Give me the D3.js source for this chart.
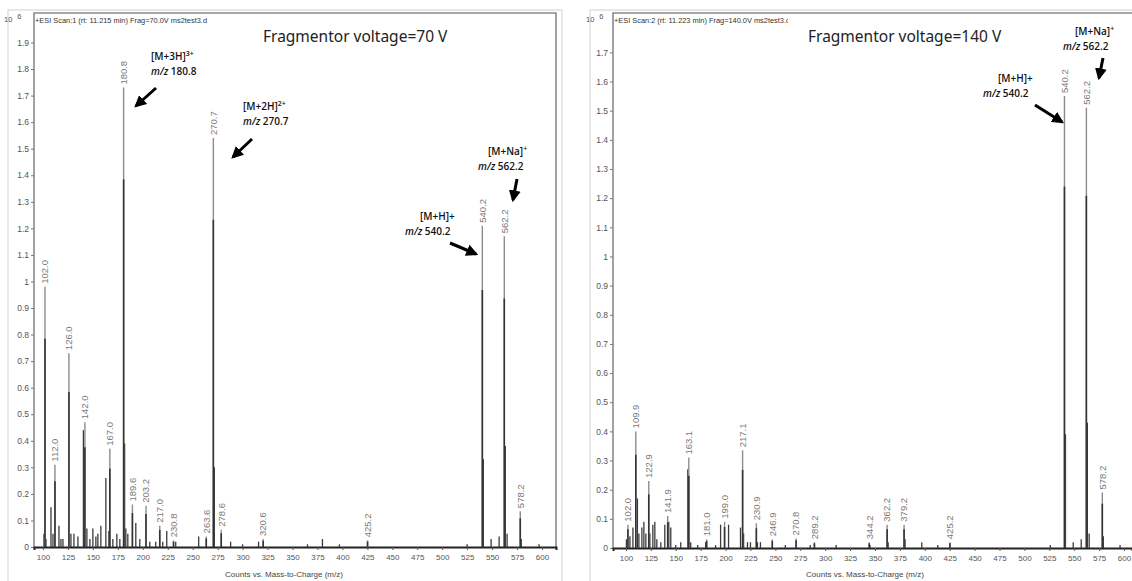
<!DOCTYPE html>
<meta charset="utf-8">
<script src="https://cdn.jsdelivr.net/npm/d3@7"></script>
<head>
<style>
  body { margin: 0; background: #fff; }
  text { font-family: "Liberation Sans", Arial, sans-serif; }
</style>
</head>
<body>
<script>

    // ---- data (m/z, counts x10^6) ----
    var xTicks = [100,125,150,175,200,225,250,275,300,325,350,375,400,425,450,475,500,525,550,575,600];
    var leftYTicks = [0,0.1,0.2,0.3,0.4,0.5,0.6,0.7,0.8,0.9,1,1.1,1.2,1.3,1.4,1.5,1.6,1.7,1.8,1.9];
    var rightYTicks = [0,0.1,0.2,0.3,0.4,0.5,0.6,0.7,0.8,0.9,1,1.1,1.2,1.3,1.4,1.5,1.6,1.7];

    // 70 V spectrum, labelled peaks
    var leftPeakMz  = [102.0, 112.0, 126.0, 142.0, 167.0, 180.8, 189.6, 203.2, 217.0, 230.8, 263.6, 270.7, 278.6, 320.6, 425.2, 540.2, 562.2, 578.2];
    var leftPeakInt = [0.98, 0.31, 0.73, 0.47, 0.37, 1.73, 0.16, 0.155, 0.08, 0.025, 0.04, 1.54, 0.065, 0.03, 0.025, 1.21, 1.17, 0.135];
    // 70 V spectrum, unlabelled peaks
    var leftMinorMz  = [101, 103, 108, 110, 116, 118, 120, 128, 131, 135, 140.5, 144, 147, 150, 153, 155, 158, 163, 166, 170, 174, 177, 181.8, 183, 185, 193, 197, 207, 213, 220, 224, 233, 256, 271.7, 288, 300, 316, 365, 380, 397, 525, 541.2, 549, 557, 563.2, 565, 579.2, 597];
    var leftMinorInt = [0.05, 0.03, 0.15, 0.05, 0.08, 0.03, 0.03, 0.05, 0.05, 0.04, 0.44, 0.07, 0.03, 0.07, 0.04, 0.05, 0.08, 0.26, 0.06, 0.03, 0.05, 0.03, 0.39, 0.07, 0.05, 0.09, 0.03, 0.02, 0.02, 0.02, 0.06, 0.02, 0.04, 0.30, 0.02, 0.01, 0.02, 0.01, 0.03, 0.01, 0.01, 0.33, 0.03, 0.04, 0.38, 0.05, 0.03, 0.01];

    // 140 V spectrum, labelled peaks
    var rightPeakMz  = [102.0, 109.9, 122.9, 141.9, 163.1, 181.0, 199.0, 217.1, 230.9, 246.9, 270.8, 289.2, 344.2, 362.2, 379.2, 425.2, 540.2, 562.2, 578.2];
    var rightPeakInt = [0.08, 0.40, 0.23, 0.11, 0.31, 0.03, 0.09, 0.335, 0.085, 0.03, 0.033, 0.02, 0.02, 0.08, 0.08, 0.02, 1.55, 1.51, 0.19];
    // 140 V spectrum, unlabelled peaks
    var rightMinorMz  = [100.5, 104, 107, 111.5, 113, 116, 118, 120, 124, 127, 129, 131, 135, 139, 143, 145, 150, 155, 162.1, 165, 172, 180, 190, 195, 203, 215, 218.1, 222, 225, 232, 235, 260, 285, 311, 345, 363.2, 380.2, 397, 413, 526, 541.2, 549, 557, 563.2, 565, 579.2, 596];
    var rightMinorInt = [0.03, 0.04, 0.07, 0.17, 0.05, 0.07, 0.09, 0.05, 0.05, 0.08, 0.09, 0.03, 0.02, 0.08, 0.09, 0.07, 0.01, 0.02, 0.27, 0.02, 0.01, 0.02, 0.01, 0.08, 0.08, 0.07, 0.05, 0.02, 0.02, 0.02, 0.02, 0.01, 0.01, 0.01, 0.01, 0.02, 0.03, 0.02, 0.01, 0.01, 0.39, 0.02, 0.03, 0.43, 0.05, 0.04, 0.01];

    var svg = d3.select("body").append("svg")
        .attr("width", 1132)
        .attr("height", 581);

    var defs = svg.append("defs");
    defs.append("marker")
        .attr("id", "arrowHead")
        .attr("viewBox", "0 0 10 10")
        .attr("refX", 8)
        .attr("refY", 5)
        .attr("markerWidth", 4)
        .attr("markerHeight", 4)
        .attr("orient", "auto")
        .append("path")
        .attr("d", "M0,0 L10,5 L0,10 z")
        .attr("fill", "#000");

    function drawPanel(cfg) {

        var g = svg.append("g").attr("class", "panel");

        // outer light frame of the screenshot
        g.append("rect")
            .attr("x", cfg.outer[0])
            .attr("y", cfg.outer[1])
            .attr("width", cfg.outer[2])
            .attr("height", cfg.outer[3])
            .style("fill", "none")
            .style("stroke", "#d8d8d8")
            .style("stroke-width", 1.2);

        var x = d3.scaleLinear().domain(cfg.xDomain).range([cfg.left, cfg.right]);
        var y = d3.scaleLinear().domain([0, cfg.yMax]).range([cfg.bottom, cfg.top]);

        // plot frame
        g.append("path")
            .attr("d", "M" + cfg.left + "," + cfg.bottom + "V" + cfg.top + "H" + cfg.right + (cfg.closeRight ? "V" + cfg.bottom : ""))
            .style("fill", "none")
            .style("stroke", "#8a8a8a")
            .style("stroke-width", 1.6);

        var clipId = "clip" + cfg.id;
        defs.append("clipPath").attr("id", clipId)
            .append("rect")
            .attr("x", cfg.left)
            .attr("y", cfg.top)
            .attr("width", cfg.right - cfg.left)
            .attr("height", cfg.bottom - cfg.top + 2);

        // y axis
        var yAxis = d3.axisLeft(y)
            .tickValues(cfg.yTicks)
            .tickSize(3)
            .tickPadding(2)
            .tickFormat(function(d) { return d3.format("")(+d.toFixed(1)); });
        var yg = g.append("g")
            .attr("transform", "translate(" + cfg.left + ",0)")
            .call(yAxis);
        yg.select(".domain").remove();
        yg.selectAll("line").style("stroke", "#777");
        yg.selectAll("text")
            .style("font-size", "8.5px")
            .style("fill", "#555")
            .style("font-family", "Liberation Sans, Arial, sans-serif");

        // x axis
        var xAxis = d3.axisBottom(x)
            .tickValues(xTicks)
            .tickSize(3)
            .tickPadding(4)
            .tickFormat(d3.format("d"));
        var xg = g.append("g")
            .attr("transform", "translate(0," + cfg.bottom + ")")
            .call(xAxis);
        xg.select(".domain")
            .style("stroke", "#222")
            .style("stroke-width", 2);
        xg.selectAll("line").style("stroke", "#555");
        xg.selectAll("text")
            .style("font-size", "8px")
            .style("fill", "#555")
            .style("font-family", "Liberation Sans, Arial, sans-serif");

        g.append("text")
            .attr("x", cfg.xLabelX)
            .attr("y", 577)
            .attr("text-anchor", "middle")
            .style("font-size", "8px")
            .style("fill", "#444")
            .text("Counts vs. Mass-to-Charge (m/z)");

        // 10^6 multiplier
        var mult = g.append("text")
            .attr("x", cfg.outer[0] - 4)
            .attr("y", 22)
            .style("font-size", "7.5px")
            .style("fill", "#555");
        mult.append("tspan").text("10");
        mult.append("tspan").attr("dx", 5).attr("dy", -3).text("6");

        // scan header
        var hClipId = "hclip" + cfg.id;
        defs.append("clipPath").attr("id", hClipId)
            .append("rect")
            .attr("x", cfg.left)
            .attr("y", cfg.top)
            .attr("width", cfg.headerWidth)
            .attr("height", 20);
        g.append("text")
            .attr("x", cfg.left + 1)
            .attr("y", cfg.top + 10)
            .attr("clip-path", "url(#" + hClipId + ")")
            .style("font-size", "7.4px")
            .style("fill", "#333")
            .text(cfg.header);

        // peaks
        var plot = g.append("g").attr("clip-path", "url(#" + clipId + ")");

        var minor = cfg.minorMz.map(function(d, i) { return {mz: d, v: cfg.minorInt[i]}; });
        var major = cfg.peakMz.map(function(d, i) { return {mz: d, v: cfg.peakInt[i]}; });

        plot.selectAll(".minor")
            .data(minor)
            .enter()
            .append("line")
            .attr("class", "minor")
            .attr("x1", function(d) { return x(d.mz); })
            .attr("x2", function(d) { return x(d.mz); })
            .attr("y1", y(0))
            .attr("y2", function(d) { return y(d.v); })
            .style("stroke", "#3a3a3a")
            .style("stroke-width", 1.3);

        // tall peaks: light thin tip, darker body
        plot.selectAll(".peakTip")
            .data(major)
            .enter()
            .append("line")
            .attr("class", "peakTip")
            .attr("x1", function(d) { return x(d.mz); })
            .attr("x2", function(d) { return x(d.mz); })
            .attr("y1", y(0))
            .attr("y2", function(d) { return y(d.v); })
            .style("stroke", "#8c8c8c")
            .style("stroke-width", 1.4);

        plot.selectAll(".peakBody")
            .data(major)
            .enter()
            .append("line")
            .attr("class", "peakBody")
            .attr("x1", function(d) { return x(d.mz); })
            .attr("x2", function(d) { return x(d.mz); })
            .attr("y1", y(0))
            .attr("y2", function(d) { return y(d.v * 0.8); })
            .style("stroke", "#333")
            .style("stroke-width", 1.6);

        // rotated peak labels
        g.selectAll(".peakLabel")
            .data(major)
            .enter()
            .append("text")
            .attr("class", "peakLabel")
            .attr("transform", function(d) {
                return "translate(" + x(d.mz) + "," + (y(d.v) - 3) + ") rotate(-90)";
            })
            .attr("dy", "0.35em")
            .style("font-size", "9.5px")
            .style("fill", "#7a7a7a")
            .text(function(d) { return d.mz.toFixed(1); });

        // panel title
        g.append("text")
            .attr("x", cfg.titleX)
            .attr("y", 42)
            .style("font-family", "Noto Sans, Open Sans, sans-serif")
            .style("font-size", "15.5px")
            .style("fill", "#222")
            .text(cfg.title);

        // ion annotations with arrows
        cfg.notes.forEach(function(n) {
            var t1 = g.append("text")
                .attr("x", n.tx)
                .attr("y", n.ty)
                .attr("text-anchor", n.anchor || "start")
                .style("font-family", "Open Sans, Noto Sans, sans-serif")
                .style("font-weight", 600)
                .style("font-size", "10px")
                .style("fill", "#111");
            t1.append("tspan").text(n.ion);
            if (n.charge) {
                t1.append("tspan")
                    .attr("dy", -4)
                    .style("font-size", "7px")
                    .text(n.charge);
            }
            var t2 = g.append("text")
                .attr("x", n.tx + (n.dx2 || 0))
                .attr("y", n.ty + 15)
                .attr("text-anchor", n.anchor || "start")
                .style("font-family", "Open Sans, Noto Sans, sans-serif")
                .style("font-weight", 600)
                .style("font-size", "10px")
                .style("fill", "#111");
            t2.append("tspan").style("font-style", "italic").text("m/z");
            t2.append("tspan").text(" " + n.mzText);

            g.append("line")
                .attr("x1", n.a[0])
                .attr("y1", n.a[1])
                .attr("x2", n.a[2])
                .attr("y2", n.a[3])
                .attr("marker-end", "url(#arrowHead)")
                .style("stroke", "#000")
                .style("stroke-width", 3);
        });
    }

    drawPanel({
        id: "L",
        outer: [8, 10, 554, 575],
        left: 34, right: 556, top: 13, bottom: 547,
        xDomain: [91, 614],
        yMax: 2.011,
        closeRight: true,
        yTicks: leftYTicks,
        peakMz: leftPeakMz, peakInt: leftPeakInt,
        minorMz: leftMinorMz, minorInt: leftMinorInt,
        header: "+ESI Scan:1 (rt: 11.215 min) Frag=70.0V ms2test3.d",
        headerWidth: 230,
        title: "Fragmentor voltage=70 V",
        titleX: 263,
        xLabelX: 284,
        notes: [
            {ion: "[M+3H]", charge: "3+", mzText: "180.8", tx: 151, ty: 60, a: [156, 88, 136, 106]},
            {ion: "[M+2H]", charge: "2+", mzText: "270.7", tx: 243, ty: 110, a: [252, 139, 233, 157]},
            {ion: "[M+Na]", charge: "+", mzText: "562.2", tx: 488, ty: 155, dx2: -10, a: [517, 179, 513, 200]},
            {ion: "[M+H]+", charge: "", mzText: "540.2", tx: 420, ty: 220, dx2: -15, a: [450, 243, 476, 254]}
        ]
    });

    drawPanel({
        id: "R",
        outer: [590, 10, 560, 575],
        left: 613, right: 1132, top: 13, bottom: 548,
        xDomain: [87, 608],
        yMax: 1.835,
        closeRight: false,
        yTicks: rightYTicks,
        peakMz: rightPeakMz, peakInt: rightPeakInt,
        minorMz: rightMinorMz, minorInt: rightMinorInt,
        header: "+ESI Scan:2 (rt: 11.223 min) Frag=140.0V ms2test3.d",
        headerWidth: 175,
        title: "Fragmentor voltage=140 V",
        titleX: 808,
        xLabelX: 865,
        notes: [
            {ion: "[M+Na]", charge: "+", mzText: "562.2", tx: 1075, ty: 35, dx2: -12, a: [1103, 58, 1099, 78]},
            {ion: "[M+H]+", charge: "", mzText: "540.2", tx: 998, ty: 82, dx2: -15, a: [1035, 105, 1062, 122]}
        ]
    });

</script>
</body>
</html>
